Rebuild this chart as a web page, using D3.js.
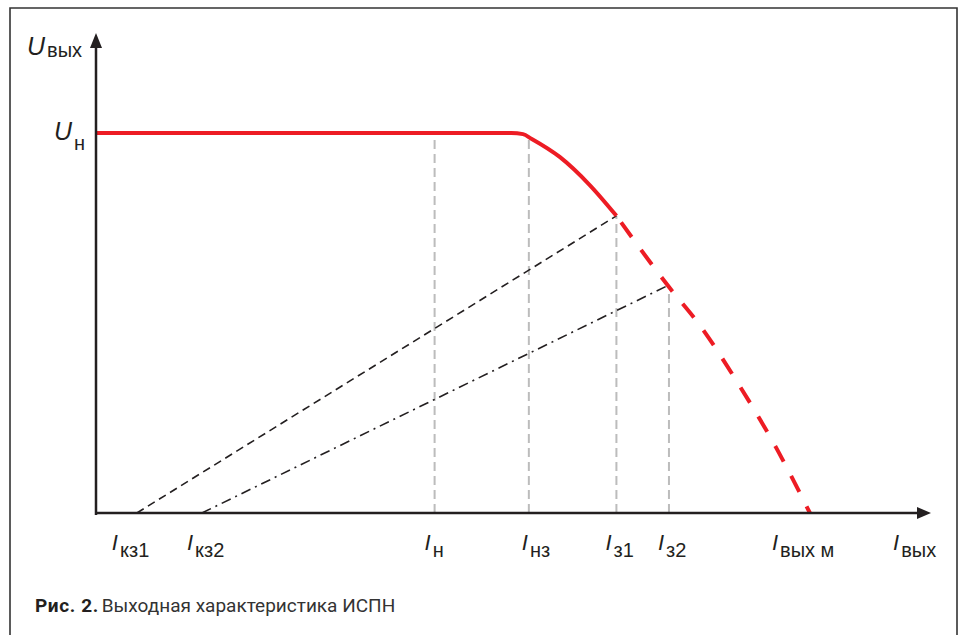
<!DOCTYPE html>
<html>
<head>
<meta charset="utf-8">
<script src="https://cdn.jsdelivr.net/npm/d3@7"></script>
<style>
  html, body { margin: 0; padding: 0; background: #fff; }
  svg { display: block; }
</style>
</head>
<body>
<div id="chart"></div>
<script>
// Relative units: current 0..10, voltage 0..1 (U_н = 1)
const markI      = [0.49, 1.27, 4.06, 5.19, 6.24, 6.87, 8.56];
const markNames  = ['кз1', 'кз2', 'н', 'нз', 'з1', 'з2', 'вых м'];
const labelDx    = [-25, -15, -10, -7, -11, -11, -38];

// solid part of the characteristic
const curveI = [0, 4.98, 5.12, 5.22, 5.56, 5.92, 6.24];
const curveU = [1, 1, 0.997, 0.985, 0.937, 0.863, 0.782];
// dashed continuation down to I_вых м
const extI = [6.24, 6.88, 7.22, 7.71, 8.15, 8.56];
const extU = [0.782, 0.592, 0.50, 0.337, 0.174, 0];

// vertical guides: I_н, I_нз, I_з1, I_з2 up to the curve
const guideI = [4.06, 5.19, 6.24, 6.87];
const guideU = [1, 0.99, 0.782, 0.60];

// load lines from short-circuit currents to the working points
const loadFromI = [0.49, 1.27];
const loadToI   = [6.24, 6.87];
const loadToU   = [0.782, 0.60];

const dimensions = { width: 959, height: 635 };
const ink = '#231f20';
const red = '#ed1c24';

const svg = d3.select('#chart').append('svg')
  .attr('width', dimensions.width)
  .attr('height', dimensions.height);

const xScale = d3.scaleLinear().domain([0, 10]).range([96, 930]);
const yScale = d3.scaleLinear().domain([0, 1]).range([513, 133]);

// frame (open at the bottom)
svg.append('path')
  .attr('d', `M10,${dimensions.height} V8 H957 V${dimensions.height}`)
  .attr('fill', 'none')
  .attr('stroke', '#333')
  .attr('stroke-width', 1.6);

// guides
svg.append('g').selectAll('line')
  .data(guideI)
  .join('line')
  .attr('x1', d => xScale(d)).attr('x2', d => xScale(d))
  .attr('y1', yScale(0))
  .attr('y2', (d, i) => yScale(guideU[i]))
  .attr('stroke', '#bcbcbc')
  .attr('stroke-width', 2)
  .attr('stroke-dasharray', '9 5');

// load lines
const loadStyles = ['8 5', '10 5 2 5'];
svg.append('g').selectAll('line')
  .data(loadFromI)
  .join('line')
  .attr('x1', d => xScale(d))
  .attr('y1', yScale(0))
  .attr('x2', (d, i) => xScale(loadToI[i]))
  .attr('y2', (d, i) => yScale(loadToU[i]))
  .attr('stroke', ink)
  .attr('stroke-width', 1.6)
  .attr('stroke-dasharray', (d, i) => loadStyles[i]);

// characteristic
const line = d3.line()
  .x(d => xScale(d[0]))
  .y(d => yScale(d[1]))
  .curve(d3.curveMonotoneX);

svg.append('path')
  .attr('d', line(curveI.map((v, i) => [v, curveU[i]])))
  .attr('fill', 'none')
  .attr('stroke', red)
  .attr('stroke-width', 4);

svg.append('path')
  .attr('d', line(extI.map((v, i) => [v, extU[i]])))
  .attr('fill', 'none')
  .attr('stroke', red)
  .attr('stroke-width', 4)
  .attr('stroke-dasharray', '18 16')
  .attr('stroke-dashoffset', 26);

// axes with arrows
const x0 = xScale(0), y0 = yScale(0);
svg.append('line')
  .attr('x1', x0).attr('y1', y0 + 2)
  .attr('x2', x0).attr('y2', 46)
  .attr('stroke', ink).attr('stroke-width', 2.5);
svg.append('path')
  .attr('d', `M${x0},33 L${x0 + 6},48 L${x0 - 6},48 Z`)
  .attr('fill', ink);

svg.append('line')
  .attr('x1', x0 - 1).attr('y1', y0)
  .attr('x2', 920).attr('y2', y0)
  .attr('stroke', ink).attr('stroke-width', 2.5);
svg.append('path')
  .attr('d', `M931,${y0} L917,${y0 - 6} L917,${y0 + 6} Z`)
  .attr('fill', ink);

// labels
const font = '"Liberation Sans", Arial, Helvetica, sans-serif';

function symLabel(x, y, main, sub, mainSize, subSize, subDy) {
  const t = svg.append('text')
    .attr('x', x).attr('y', y)
    .attr('font-family', font)
    .attr('fill', ink);
  t.append('tspan')
    .attr('font-style', 'italic')
    .attr('font-size', mainSize)
    .text(main);
  t.append('tspan')
    .attr('font-size', subSize)
    .attr('dx', 2)
    .attr('dy', subDy)
    .text(sub);
}

symLabel(27, 55, 'U', 'вых', 25, 20, 2);
symLabel(54, 140, 'U', 'н', 25, 20, 10);

markI.forEach((v, i) => {
  symLabel(xScale(v) + labelDx[i], 550, 'I', markNames[i], 22, 20, 7);
});
symLabel(893, 550, 'I', 'вых', 22, 20, 7);

// caption
const cap = svg.append('text')
  .attr('x', 35).attr('y', 612)
  .attr('font-family', 'Roboto, "Noto Sans", sans-serif')
  .attr('font-size', 19)
  .attr('fill', ink);
cap.append('tspan').attr('font-weight', 'bold').attr('letter-spacing', 0.6).text('Рис. 2.');
cap.append('tspan').attr('dx', 3).attr('fill', '#333').text('Выходная характеристика ИСПН');
</script>
</body>
</html>
